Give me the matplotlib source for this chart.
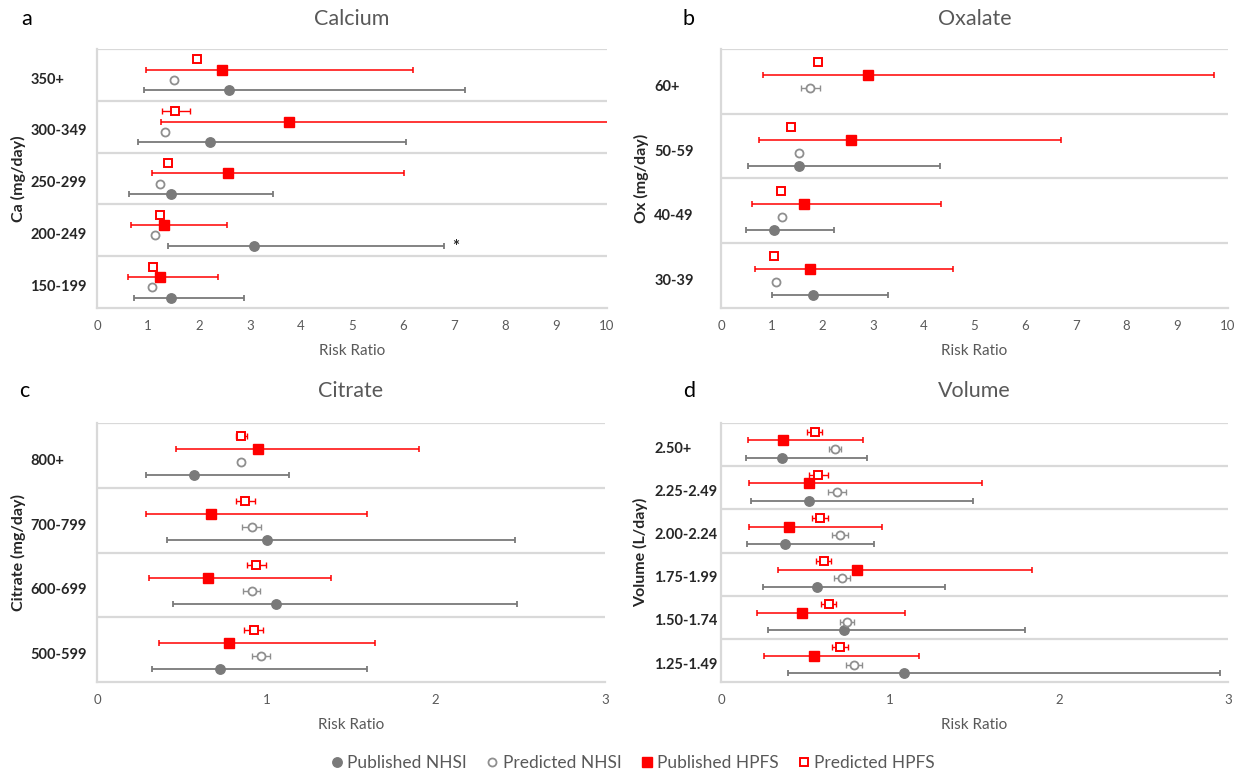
import numpy as np
import matplotlib

matplotlib.use("Agg")
import matplotlib.pyplot as plt
from matplotlib.lines import Line2D

plt.rcParams["font.family"] = ["Lato", "DejaVu Sans"]

# ---- data (categories listed top to bottom as shown) ----
ca_cats = ["350+", "300-349", "250-299", "200-249", "150-199"]
ca_pub_nhsi = [2.58, 2.22, 1.46, 3.07, 1.45]
ca_pub_nhsi_lo = [0.93, 0.80, 0.62, 1.39, 0.72]
ca_pub_nhsi_hi = [7.21, 6.06, 3.45, 6.80, 2.89]
ca_pred_nhsi = [1.51, 1.33, 1.23, 1.14, 1.07]
ca_pred_nhsi_lo = [np.nan, np.nan, np.nan, np.nan, np.nan]
ca_pred_nhsi_hi = [np.nan, np.nan, np.nan, np.nan, np.nan]
ca_pub_hpfs = [2.45, 3.77, 2.56, 1.32, 1.23]
ca_pub_hpfs_lo = [0.96, 1.25, 1.08, 0.66, 0.61]
ca_pub_hpfs_hi = [6.19, 11.5, 6.02, 2.55, 2.37]
ca_pred_hpfs = [1.96, 1.53, 1.39, 1.23, 1.10]
ca_pred_hpfs_lo = [np.nan, 1.27, np.nan, np.nan, np.nan]
ca_pred_hpfs_hi = [np.nan, 1.83, np.nan, np.nan, np.nan]

ox_cats = ["60+", "50-59", "40-49", "30-39"]
ox_pub_nhsi = [np.nan, 1.53, 1.05, 1.82]
ox_pub_nhsi_lo = [np.nan, 0.53, 0.49, 1.01]
ox_pub_nhsi_hi = [np.nan, 4.31, 2.22, 3.29]
ox_pred_nhsi = [1.76, 1.53, 1.21, 1.09]
ox_pred_nhsi_lo = [1.58, 1.47, np.nan, np.nan]
ox_pred_nhsi_hi = [1.95, 1.59, np.nan, np.nan]
ox_pub_hpfs = [2.89, 2.56, 1.64, 1.75]
ox_pub_hpfs_lo = [0.83, 0.75, 0.62, 0.67]
ox_pub_hpfs_hi = [9.73, 6.71, 4.34, 4.57]
ox_pred_hpfs = [1.91, 1.39, 1.19, 1.05]
ox_pred_hpfs_lo = [np.nan, np.nan, np.nan, np.nan]
ox_pred_hpfs_hi = [np.nan, np.nan, np.nan, np.nan]

ci_cats = ["800+", "700-799", "600-699", "500-599"]
ci_pub_nhsi = [0.570, 1.002, 1.055, 0.724]
ci_pub_nhsi_lo = [0.290, 0.411, 0.448, 0.325]
ci_pub_nhsi_hi = [1.132, 2.470, 2.482, 1.592]
ci_pred_nhsi = [0.848, 0.913, 0.913, 0.969]
ci_pred_nhsi_lo = [0.830, 0.859, 0.862, 0.918]
ci_pred_nhsi_hi = [0.866, 0.967, 0.962, 1.023]
ci_pub_hpfs = [0.953, 0.672, 0.654, 0.782]
ci_pub_hpfs_lo = [0.467, 0.290, 0.306, 0.364]
ci_pub_hpfs_hi = [1.903, 1.595, 1.380, 1.641]
ci_pred_hpfs = [0.852, 0.876, 0.941, 0.925]
ci_pred_hpfs_lo = [0.820, 0.822, 0.885, 0.869]
ci_pred_hpfs_hi = [0.885, 0.932, 0.999, 0.978]

vo_cats = ["2.50+", "2.25-2.49", "2.00-2.24", "1.75-1.99", "1.50-1.74", "1.25-1.49"]
vo_pub_nhsi = [0.360, 0.523, 0.381, 0.570, 0.725, 1.083]
vo_pub_nhsi_lo = [0.148, 0.179, 0.155, 0.247, 0.280, 0.398]
vo_pub_nhsi_hi = [0.862, 1.493, 0.904, 1.326, 1.801, 2.953]
vo_pred_nhsi = [0.676, 0.688, 0.702, 0.716, 0.746, 0.786]
vo_pred_nhsi_lo = [0.638, 0.636, 0.655, 0.669, 0.704, 0.742]
vo_pred_nhsi_hi = [0.713, 0.742, 0.753, 0.763, 0.786, 0.834]
vo_pub_hpfs = [0.367, 0.523, 0.400, 0.803, 0.480, 0.553]
vo_pub_hpfs_lo = [0.158, 0.165, 0.165, 0.339, 0.212, 0.257]
vo_pub_hpfs_hi = [0.843, 1.542, 0.951, 1.839, 1.090, 1.173]
vo_pred_hpfs = [0.556, 0.575, 0.584, 0.607, 0.638, 0.704]
vo_pred_hpfs_lo = [0.511, 0.520, 0.537, 0.560, 0.591, 0.659]
vo_pred_hpfs_hi = [0.600, 0.631, 0.633, 0.652, 0.683, 0.751]

GRAY = "#7a7a7a"
GRAY_OPEN = "#8f8f8f"
RED = "#ff0000"
GRID = "#d9d9d9"
TXT = "#595959"
DARK = "#262626"

W, H = 1246, 776
fig = plt.figure(figsize=(W / 100, H / 100), dpi=100)

MK_PUB_NHSI = dict(marker="o", ms=6.8, mfc=GRAY, mec=GRAY)
MK_PRED_NHSI = dict(marker="o", ms=5.8, mfc="white", mec=GRAY_OPEN, mew=1.3)
MK_PUB_HPFS = dict(marker="s", ms=6.5, mfc=RED, mec=RED)
MK_PRED_HPFS = dict(marker="s", ms=5.8, mfc="white", mec=RED, mew=1.4)


def px_axes(x0, x1, y0, y1):
    return fig.add_axes([x0 / W, 1 - y1 / H, (x1 - x0) / W, (y1 - y0) / H])


def draw_series(ax, centers, offset, vals, lo, hi, color, lw, marker_kw):
    vals = np.asarray(vals, float)
    lo = np.asarray(lo, float)
    hi = np.asarray(hi, float)
    y = centers + offset
    ok = np.isfinite(lo) & np.isfinite(hi) & np.isfinite(vals)
    if ok.any():
        ax.errorbar(vals[ok], y[ok],
                    xerr=[vals[ok] - lo[ok], hi[ok] - vals[ok]],
                    fmt="none", ecolor=color, elinewidth=lw, capsize=2.2,
                    capthick=lw, zorder=2)
    m = np.isfinite(vals)
    ax.plot(vals[m], y[m], linestyle="none", zorder=3, **marker_kw)


def panel(ax, cats, series, xmax, xticks, title, letter, ylabel, ty, lx, ylab_x):
    n = len(cats)
    centers = n - 0.5 - np.arange(n)
    (pn, pnl, pnh), (qn, qnl, qnh), (ph, phl, phh), (qh, qhl, qhh) = series
    draw_series(ax, centers, -0.3, pn, pnl, pnh, GRAY, 1.3, MK_PUB_NHSI)
    draw_series(ax, centers, -0.1, qn, qnl, qnh, GRAY_OPEN, 1.0, MK_PRED_NHSI)
    draw_series(ax, centers, 0.1, ph, phl, phh, RED, 1.1, MK_PUB_HPFS)
    draw_series(ax, centers, 0.3, qh, qhl, qhh, RED, 1.0, MK_PRED_HPFS)

    ax.set_xlim(0, xmax)
    ax.set_ylim(0, n)
    ax.set_xticks(xticks)
    ax.set_xticklabels([str(t) for t in xticks])
    ax.set_yticks(centers - 0.06)
    ax.set_yticklabels(cats, ha="left", fontsize=10.5, fontweight="bold", color=DARK)
    ax.set_yticks(np.arange(1, n + 1), minor=True)
    ax.grid(True, which="minor", axis="y", color=GRID, lw=1.6)
    ax.tick_params(axis="y", which="both", length=0, pad=48)
    ax.tick_params(axis="x", length=0, pad=9, labelsize=9.5, labelcolor=TXT)
    for s in ("top", "right"):
        ax.spines[s].set_visible(False)
    for s in ("left", "bottom"):
        ax.spines[s].set_color(GRID)
        ax.spines[s].set_linewidth(1.6)
    ax.set_xlabel("Risk Ratio", fontsize=11, color=TXT, labelpad=8)

    pos = ax.get_position()
    cx = (pos.x0 + pos.x1) / 2
    fig.text(cx, 1 - ty / H, title, ha="center", va="center", fontsize=15.5, color=TXT)
    fig.text(lx / W, 1 - ty / H, letter, ha="left", va="center", fontsize=15.5, color="black")
    fig.text(ylab_x / W, (pos.y0 + pos.y1) / 2, ylabel, rotation=90, ha="center",
             va="center", fontsize=11.5, fontweight="bold", color=DARK)
    return centers


ax_a = px_axes(97, 607, 49, 308)
cen = panel(ax_a, ca_cats,
            [(ca_pub_nhsi, ca_pub_nhsi_lo, ca_pub_nhsi_hi),
             (ca_pred_nhsi, ca_pred_nhsi_lo, ca_pred_nhsi_hi),
             (ca_pub_hpfs, ca_pub_hpfs_lo, ca_pub_hpfs_hi),
             (ca_pred_hpfs, ca_pred_hpfs_lo, ca_pred_hpfs_hi)],
            10, list(range(11)), "Calcium", "a", "Ca (mg/day)", 19, 21, 18)
# significance marker next to the 200-249 NHSI interval
ax_a.text(ca_pub_nhsi_hi[3] + 0.23, cen[3] - 0.33, "*", ha="center", va="center",
          fontsize=12, fontweight="bold", color=DARK)

ax_b = px_axes(721, 1228, 49, 308)
panel(ax_b, ox_cats,
      [(ox_pub_nhsi, ox_pub_nhsi_lo, ox_pub_nhsi_hi),
       (ox_pred_nhsi, ox_pred_nhsi_lo, ox_pred_nhsi_hi),
       (ox_pub_hpfs, ox_pub_hpfs_lo, ox_pub_hpfs_hi),
       (ox_pred_hpfs, ox_pred_hpfs_lo, ox_pred_hpfs_hi)],
      10, list(range(11)), "Oxalate", "b", "Ox (mg/day)", 19, 683, 641)

ax_c = px_axes(97, 605, 423, 682)
panel(ax_c, ci_cats,
      [(ci_pub_nhsi, ci_pub_nhsi_lo, ci_pub_nhsi_hi),
       (ci_pred_nhsi, ci_pred_nhsi_lo, ci_pred_nhsi_hi),
       (ci_pub_hpfs, ci_pub_hpfs_lo, ci_pub_hpfs_hi),
       (ci_pred_hpfs, ci_pred_hpfs_lo, ci_pred_hpfs_hi)],
      3, [0, 1, 2, 3], "Citrate", "c", "Citrate (mg/day)", 391, 19, 18)

ax_d = px_axes(721, 1228, 423, 682)
panel(ax_d, vo_cats,
      [(vo_pub_nhsi, vo_pub_nhsi_lo, vo_pub_nhsi_hi),
       (vo_pred_nhsi, vo_pred_nhsi_lo, vo_pred_nhsi_hi),
       (vo_pub_hpfs, vo_pub_hpfs_lo, vo_pub_hpfs_hi),
       (vo_pred_hpfs, vo_pred_hpfs_lo, vo_pred_hpfs_hi)],
      3, [0, 1, 2, 3], "Volume", "d", "Volume (L/day)", 391, 683, 641)

handles = [
    Line2D([], [], ls="none", **MK_PUB_NHSI),
    Line2D([], [], ls="none", **MK_PRED_NHSI),
    Line2D([], [], ls="none", **MK_PUB_HPFS),
    Line2D([], [], ls="none", **MK_PRED_HPFS),
]
labels = ["Published NHSI", "Predicted NHSI", "Published HPFS", "Predicted HPFS"]
leg = fig.legend(handles, labels, loc="center", bbox_to_anchor=(0.508, 1 - 763 / H),
                 ncol=4, frameon=False, fontsize=12.5, handlelength=0.7,
                 handletextpad=0.25, columnspacing=1.1)
for t in leg.get_texts():
    t.set_color(TXT)

fig.savefig("out.png", dpi=100)
